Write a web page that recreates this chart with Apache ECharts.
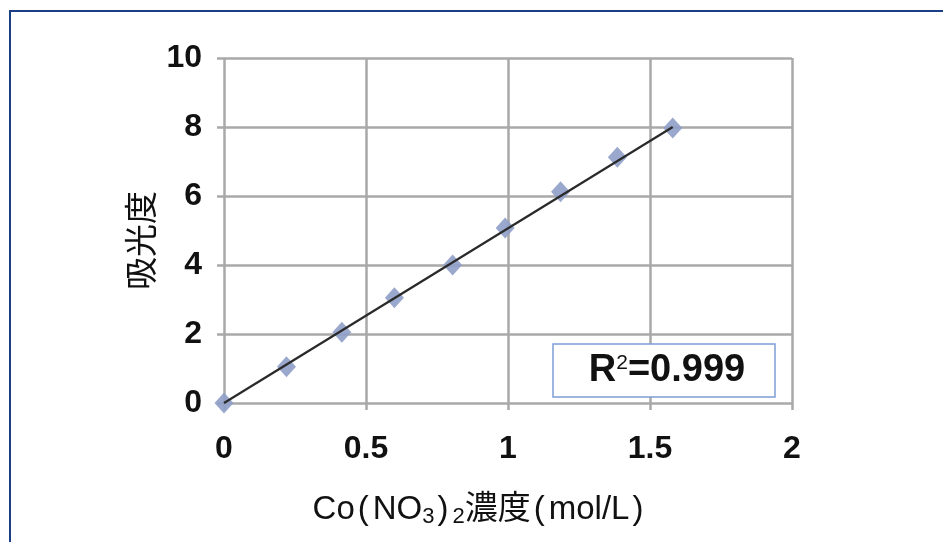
<!DOCTYPE html>
<html>
<head>
<meta charset="utf-8">
<script src="https://cdn.jsdelivr.net/npm/echarts@6/dist/echarts.min.js"></script>
<style>
  html, body { margin: 0; padding: 0; background: #fff; }
  #chart { width: 943px; height: 542px; }
</style>
</head>
<body>
<div id="chart"></div>
<script>
// concentration (mol/L) vs absorbance
const concentration = [0, 0.22, 0.415, 0.60, 0.805, 0.99, 1.185, 1.385, 1.58]
const absorbance = [0, 1.05, 2.05, 3.05, 4.0, 5.07, 6.12, 7.12, 7.97]
// linear fit end points
const fitX = [0, 1.58]
const fitY = [0, 8.0]
const r2Text = '0.999'

const latin = '"Liberation Sans", Arial, "Noto Sans CJK JP"'
const cjk = '"Liberation Sans", "Noto Sans CJK JP"'

const chart = echarts.init(document.getElementById('chart'))
chart.setOption({
  backgroundColor: '#fff',
  animation: false,
  grid: { left: 224, right: 151, top: 58, bottom: 139 },
  xAxis: {
    type: 'value',
    min: 0,
    max: 2,
    interval: 0.5,
    name: '{t|Co}{p|(}{t|NO}{s|3}{p|)}{s|2}{t|濃度}{p|(}{t|mol/L}{p|)}',
    nameLocation: 'middle',
    nameGap: 88,
    nameMoveOverlap: false,
    nameTextStyle: {
      padding: [0, 56, 0, 0],
      rich: {
        t: { fontFamily: cjk, fontSize: 33, color: '#111' },
        p: { fontFamily: cjk, fontSize: 33, color: '#111', padding: [0, 4, 0, 3] },
        s: { fontFamily: cjk, fontSize: 22, color: '#111', padding: [15, 0, 0, 0] }
      }
    },
    axisLine: { show: false },
    axisTick: { show: true, length: 7, lineStyle: { color: '#a9a9a9', width: 2.5 } },
    axisLabel: { margin: 30, fontFamily: latin, fontSize: 32, fontWeight: 'bold', color: '#111' },
    splitLine: { show: true, lineStyle: { color: '#a9a9a9', width: 2.5 } }
  },
  yAxis: {
    type: 'value',
    min: 0,
    max: 10,
    interval: 2,
    name: '吸光度',
    nameLocation: 'middle',
    nameGap: 64,
    nameMoveOverlap: false,
    nameRotate: 90,
    nameTextStyle: { fontFamily: cjk, fontSize: 33, color: '#111', padding: [0, 20, 0, 0] },
    axisLine: { show: false },
    axisTick: { show: true, length: 7, lineStyle: { color: '#a9a9a9', width: 2.5 } },
    axisLabel: { margin: 22, fontFamily: latin, fontSize: 32, fontWeight: 'bold', color: '#111' },
    splitLine: { show: true, lineStyle: { color: '#a9a9a9', width: 2.5 } }
  },
  series: [
    {
      type: 'scatter',
      data: concentration.map((x, i) => [x, absorbance[i]]),
      symbol: 'diamond',
      symbolSize: [19, 21],
      itemStyle: { color: '#8f9ec8', opacity: 0.9 },
      z: 2
    },
    {
      type: 'line',
      data: fitX.map((x, i) => [x, fitY[i]]),
      showSymbol: false,
      lineStyle: { color: '#2a2a2a', width: 2.2 },
      z: 3
    }
  ],
  graphic: [
    {
      type: 'polyline',
      shape: { points: [[10, 542], [10, 11], [943, 11]] },
      style: { stroke: '#1b3f86', lineWidth: 2, fill: null }
    },
    {
      type: 'rect',
      shape: { x: 553, y: 344, width: 222, height: 53 },
      style: { fill: '#fff', stroke: '#7e9fd6', lineWidth: 1.5 },
      z: 10
    },
    {
      type: 'text',
      x: 667,
      y: 371,
      style: {
        text: '{b|R}{sup|2}{b|=' + r2Text + '}',
        align: 'center',
        verticalAlign: 'middle',
        rich: {
          b: { fontFamily: latin, fontSize: 38, fontWeight: 'bold', fill: '#111' },
          sup: { fontFamily: latin, fontSize: 21, fill: '#111', padding: [0, 0, 16, 0] }
        }
      },
      z: 11
    }
  ]
})
</script>
</body>
</html>
